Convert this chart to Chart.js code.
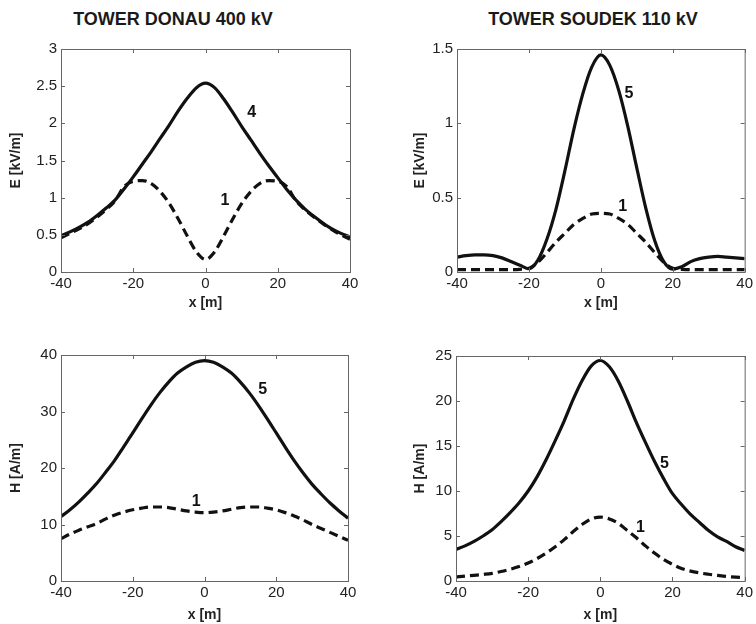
<!DOCTYPE html>
<html>
<head>
<meta charset="utf-8">
<script src="https://cdn.jsdelivr.net/npm/chart.js@4"></script>
<style>
  body { margin: 0; background: #fff; }
  #wrap { position: relative; width: 756px; height: 624px; font-family: "Liberation Sans", Arial, sans-serif; }
  canvas { position: absolute; }
  .ttl { position: absolute; top: 9px; width: 300px; text-align: center; font-weight: bold; font-size: 18px; color: #1a1a1a; }
</style>
</head>
<body>
<div id="wrap">
  <div class="ttl" style="left:23px">TOWER DONAU 400 kV</div>
  <div class="ttl" style="left:443px">TOWER SOUDEK 110 kV</div>
  <canvas id="c1" width="378" height="312" style="left:0;top:0"></canvas>
  <canvas id="c2" width="378" height="312" style="left:378px;top:0"></canvas>
  <canvas id="c3" width="378" height="312" style="left:0;top:312px"></canvas>
  <canvas id="c4" width="378" height="312" style="left:378px;top:312px"></canvas>
</div>
<script>
// distance from the line axis [m]
const xPos = [-40, -37.5, -35, -32.5, -30, -27.5, -25, -22.5, -20, -17.5, -15, -12.5, -10, -7.5, -5, -2.5,
  0, 2.5, 5, 7.5, 10, 12.5, 15, 17.5, 20, 22.5, 25, 27.5, 30, 32.5, 35, 37.5, 40];

// Donau 400 kV, E [kV/m]
const donauE4 = [0.49, 0.54, 0.6, 0.67, 0.76, 0.86, 0.97, 1.12, 1.28, 1.45, 1.62, 1.8, 1.98, 2.17, 2.34, 2.48,
  2.54, 2.48, 2.33, 2.15, 1.96, 1.78, 1.6, 1.43, 1.27, 1.11, 0.97, 0.85, 0.75, 0.66, 0.58, 0.52, 0.47];
const donauE1 = [0.46, 0.52, 0.58, 0.65, 0.74, 0.84, 0.96, 1.15, 1.22, 1.23, 1.19, 1.08, 0.92, 0.71, 0.48, 0.27,
  0.17, 0.27, 0.48, 0.71, 0.92, 1.08, 1.19, 1.23, 1.22, 1.15, 0.96, 0.84, 0.74, 0.65, 0.57, 0.5, 0.44];

// Soudek 110 kV, E [kV/m]
const soudekE5 = [0.1, 0.11, 0.115, 0.115, 0.11, 0.095, 0.07, 0.045, 0.022, 0.08, 0.22, 0.42, 0.68, 0.96, 1.2, 1.38,
  1.46, 1.39, 1.22, 0.98, 0.7, 0.43, 0.21, 0.07, 0.02, 0.035, 0.07, 0.09, 0.1, 0.105, 0.1, 0.095, 0.09];
const soudekE1 = [0.016, 0.016, 0.016, 0.016, 0.016, 0.016, 0.016, 0.018, 0.025, 0.065, 0.13, 0.2, 0.26, 0.32, 0.36, 0.39,
  0.395, 0.39, 0.36, 0.32, 0.26, 0.2, 0.13, 0.065, 0.025, 0.018, 0.016, 0.016, 0.016, 0.016, 0.016, 0.016, 0.016];

// Donau 400 kV, H [A/m]
const donauH5 = [11.4, 12.6, 14.0, 15.6, 17.3, 19.3, 21.4, 23.8, 26.2, 28.7, 31.1, 33.3, 35.2, 36.8, 37.9, 38.7,
  39.0, 38.7, 37.9, 36.8, 35.2, 33.3, 31.1, 28.7, 26.2, 23.7, 21.3, 19.1, 17.1, 15.4, 13.8, 12.4, 11.1];
const donauH1 = [7.5, 8.3, 9.0, 9.6, 10.2, 11.0, 11.7, 12.2, 12.6, 12.9, 13.1, 13.1, 13.0, 12.7, 12.4, 12.2,
  12.1, 12.2, 12.4, 12.7, 13.0, 13.1, 13.1, 12.9, 12.6, 12.1, 11.5, 10.8, 10.0, 9.3, 8.6, 7.9, 7.2];

// Soudek 110 kV, H [A/m]
const soudekH5 = [3.5, 3.9, 4.4, 5.0, 5.7, 6.6, 7.6, 8.7, 10.0, 11.6, 13.5, 15.6, 17.8, 20.2, 22.3, 23.9,
  24.5, 23.8, 22.2, 20.0, 17.6, 15.4, 13.3, 11.4, 9.7, 8.5, 7.4, 6.5, 5.6, 4.9, 4.4, 3.8, 3.4];
const soudekH1 = [0.45, 0.55, 0.63, 0.73, 0.85, 1.05, 1.3, 1.6, 2.0, 2.5, 3.1, 3.8, 4.6, 5.5, 6.3, 6.9,
  7.1, 6.9, 6.4, 5.6, 4.8, 3.9, 3.1, 2.4, 1.85, 1.4, 1.1, 0.9, 0.75, 0.62, 0.5, 0.42, 0.37];

// curve numbers written next to the lines: [text, x, value]
const donauELabels = [["4", 12.8, 2.15], ["1", 5.4, 0.96]];
const soudekELabels = [["5", 7.8, 1.2], ["1", 6.1, 0.44]];
const donauHLabels = [["5", 16.2, 33.8], ["1", -2.3, 14.0]];
const soudekHLabels = [["5", 17.8, 13.1], ["1", 11.1, 5.9]];

const INK = "#111";
const FONT = "'Liberation Sans', Arial, sans-serif";

const framePlugin = {
  id: "frame",
  afterDraw(chart) {
    const ctx = chart.ctx;
    const a = chart.chartArea;
    const xs = chart.scales.x, ys = chart.scales.y;
    ctx.save();
    ctx.strokeStyle = "#666";
    ctx.lineWidth = 1;
    ctx.strokeRect(a.left + 0.5, a.top + 0.5, a.right - a.left, a.bottom - a.top);
    ctx.beginPath();
    xs.ticks.forEach(t => {
      const p = Math.round(xs.getPixelForValue(t.value)) + 0.5;
      ctx.moveTo(p, a.bottom); ctx.lineTo(p, a.bottom - 4);
      ctx.moveTo(p, a.top); ctx.lineTo(p, a.top + 4);
    });
    ys.ticks.forEach(t => {
      const p = Math.round(ys.getPixelForValue(t.value)) + 0.5;
      ctx.moveTo(a.left, p); ctx.lineTo(a.left + 4, p);
      ctx.moveTo(a.right, p); ctx.lineTo(a.right - 4, p);
    });
    ctx.stroke();
    // curve numbers
    ctx.fillStyle = INK;
    ctx.font = "bold 16px " + FONT;
    ctx.textAlign = "center";
    ctx.textBaseline = "middle";
    (chart.options.plugins.frame.labels || []).forEach(l => {
      ctx.fillText(l[0], xs.getPixelForValue(l[1]), ys.getPixelForValue(l[2]));
    });
    ctx.restore();
  }
};

function makeChart(id, solid, dashed, yMax, yStep, yTitle, labels, area) {
  const pts = arr => arr.map((v, i) => ({ x: xPos[i], y: v }));
  return new Chart(document.getElementById(id), {
    type: "scatter",
    data: {
      datasets: [
        { data: pts(solid), showLine: true, borderColor: INK, borderWidth: 3.2, pointRadius: 0, cubicInterpolationMode: "monotone" },
        { data: pts(dashed), showLine: true, borderColor: INK, borderWidth: 3.2, borderDash: [9, 5], pointRadius: 0, cubicInterpolationMode: "monotone" }
      ]
    },
    options: {
      responsive: false,
      animation: false,
      layout: { padding: { top: area.top, right: area.right, left: 0, bottom: 0 } },
      plugins: { legend: { display: false }, tooltip: { enabled: false }, frame: { labels: labels } },
      scales: {
        x: {
          type: "linear", min: -40, max: 40,
          ticks: { stepSize: 20, color: "#222", padding: 3, font: { size: 15, family: FONT } },
          grid: { display: false, drawTicks: false }, border: { display: false },
          title: { display: true, text: "x [m]", color: "#222", padding: { top: 0, bottom: 0 }, font: { size: 14, weight: "bold", family: FONT } },
          afterFit: s => { s.height = area.xh; }
        },
        y: {
          type: "linear", min: 0, max: yMax,
          ticks: { stepSize: yStep, color: "#222", padding: 4, font: { size: 15, family: FONT },
            callback: v => String(+v.toFixed(2)) },
          grid: { display: false, drawTicks: false }, border: { display: false },
          title: { display: true, text: yTitle, color: "#222", padding: { top: area.tpad, bottom: 0 }, font: { size: 14, weight: "bold", family: FONT } },
          afterFit: s => { s.width = area.left; }
        }
      }
    },
    plugins: [framePlugin]
  });
}

makeChart("c1", donauE4, donauE1, 3, 0.5, "E [kV/m]", donauELabels, { top: 49, right: 28, left: 61, xh: 40, tpad: 8 });
makeChart("c2", soudekE5, soudekE1, 1.5, 0.5, "E [kV/m]", soudekELabels, { top: 49, right: 11, left: 79, xh: 40, tpad: 34 });
makeChart("c3", donauH5, donauH1, 40, 10, "H [A/m]", donauHLabels, { top: 43, right: 30, left: 61, xh: 43, tpad: 8 });
makeChart("c4", soudekH5, soudekH1, 25, 5, "H [A/m]", soudekHLabels, { top: 44, right: 11, left: 78, xh: 43, tpad: 34 });
</script>
</body>
</html>
